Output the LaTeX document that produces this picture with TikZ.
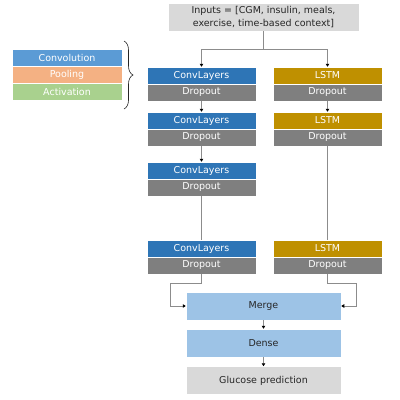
\documentclass[tikz,border=0pt]{standalone}
\usepackage{fontspec}
\setmainfont{DejaVu Sans}
\usetikzlibrary{arrows.meta,decorations.pathreplacing}

\begin{document}
\begin{tikzpicture}[x=1pt,y=-1pt,
  layer/.style={minimum width=109pt,minimum height=17pt,inner sep=0pt,draw=white,line width=0.5pt,text=white,font=\fontsize{9.5}{13}\selectfont},
  wide/.style={layer,minimum width=155pt,minimum height=28pt,text=darktext},
  link/.style={draw=linegray,line width=0.6pt},
  arr/.style={link,-{Triangle[black,length=3pt,width=3.5pt]}}]
\definecolor{convblue}{HTML}{2E75B6}
\definecolor{lightconv}{HTML}{5B9BD5}
\definecolor{pooling}{HTML}{F4B183}
\definecolor{activation}{HTML}{A9D18E}
\definecolor{dropgray}{HTML}{7F7F7F}
\definecolor{lstmgold}{HTML}{BF9000}
\definecolor{mergeblue}{HTML}{9DC3E6}
\definecolor{inputgray}{HTML}{D9D9D9}
\definecolor{darktext}{HTML}{262626}
\definecolor{linegray}{HTML}{8C8C8C}
\useasboundingbox (0,0) rectangle (400,400);
% input
\node [wide,fill=inputgray,minimum width=191pt,align=center] (inp) at (263.5,17) {Inputs = [CGM, insulin, meals,\\exercise, time-based context]};
% legend
  \foreach \name/\crlr/\pos in {Convolution/lightconv/0,Pooling/pooling/1,Activation/activation/2}
  {  \node [layer,minimum width=110pt,fill=\crlr] (\name) at (67,57.5+17*\pos) {\name};}
\draw [decorate,decoration={brace,amplitude=9pt},line width=0.6pt,draw=darktext] (124,41) -- (124,109);
% conv branch
  \foreach \i/\y in {1/67,2/112,3/162,4/240}
  {  \node [layer,fill=convblue] (c\i) at (201.5,\y+8.5) {ConvLayers};
     \node [layer,fill=dropgray] (cd\i) at (201.5,\y+25.5) {Dropout};}
% lstm branch
  \foreach \i/\y in {1/67,2/112,4/240}
  {  \node [layer,fill=lstmgold] (l\i) at (327.5,\y+8.5) {LSTM};
     \node [layer,fill=dropgray] (ld\i) at (327.5,\y+25.5) {Dropout};}
% head
\node [wide,fill=mergeblue] (merge) at (263.5,306) {Merge};
\node [wide,fill=mergeblue] (dense) at (263.5,343) {Dense};
\node [wide,fill=inputgray] (pred) at (263.5,380.5) {Glucose prediction};
% connectors
\draw [arr] (inp.south) -- ++(0,18) -| (c1.north);
\draw [arr] (inp.south) -- ++(0,18) -| (l1.north);
\draw [arr] (cd1.south) -- (c2.north);
\draw [arr] (cd2.south) -- (c3.north);
\draw [link] (cd3.south) -- (c4.north);
\draw [arr] (ld1.south) -- (l2.north);
\draw [link] (ld2.south) -- (l4.north);
\draw [arr] (cd4.south) -- ++(0,9) -| ([xshift=-15pt]merge.west) -- (merge.west);
\draw [arr] (ld4.south) -- ++(0,9) -| ([xshift=15pt]merge.east) -- (merge.east);
\draw [arr] (merge.south) -- (dense.north);
\draw [arr] (dense.south) -- (pred.north);
\end{tikzpicture}
\end{document}
